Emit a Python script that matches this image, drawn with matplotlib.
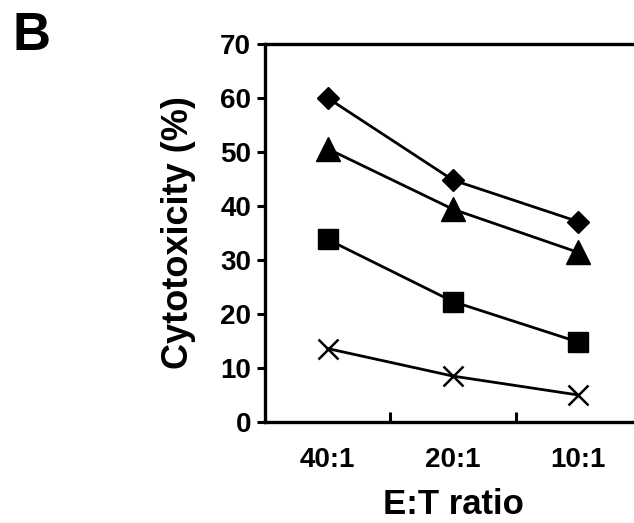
import matplotlib
matplotlib.use("Agg")
import matplotlib.pyplot as plt

ratios = ["40:1", "20:1", "10:1"]
diamond = [60.0, 44.8, 37.1]
triangle = [50.6, 39.4, 31.4]
square = [33.8, 22.3, 14.8]
cross = [13.6, 8.5, 5.0]

plt.rcParams['font.family'] = ['Liberation Sans', 'DejaVu Sans']
plt.rcParams['font.weight'] = 'bold'

fig = plt.figure(figsize=(6.34, 5.23), dpi=100)
ax = fig.add_axes([265 / 634, 1 - 422 / 523, (641 - 265) / 634, (422 - 44) / 523])

x = range(len(ratios))
ax.plot(x, diamond, color='black', lw=2, marker='D', ms=11, clip_on=False)
ax.plot(x, triangle, color='black', lw=2, marker='^', ms=17, clip_on=False)
ax.plot(x, square, color='black', lw=2, marker='s', ms=15, clip_on=False)
ax.plot(x, cross, color='black', lw=2, marker='x', ms=15, mew=1.8, clip_on=False)

ax.set_xlim(-0.5, 2.5)
ax.set_ylim(0, 70)
ax.set_yticks(range(0, 71, 10))
ax.set_xticks([0.5, 1.5])
ax.set_xticklabels([])
ax.set_xticks(list(x), labels=ratios, minor=True)
ax.tick_params(axis='x', which='major', direction='in', length=7, width=2.2)
ax.tick_params(axis='x', which='minor', length=0, pad=18, labelsize=20)
ax.tick_params(axis='y', direction='out', length=6, width=2.2, labelsize=20, pad=4)
for lbl in ax.get_xticklabels(minor=True) + ax.get_yticklabels():
    lbl.set_fontweight('bold')

for side in ['left', 'bottom', 'top']:
    ax.spines[side].set_linewidth(2.4)
ax.spines['right'].set_visible(False)

ax.set_xlabel('E:T ratio', fontsize=25, fontweight='bold', labelpad=11)
ax.set_ylabel('Cytotoxicity (%)', fontsize=26, fontweight='bold', labelpad=17)

fig.text(13 / 634, 1 - 50 / 523, 'B', fontsize=38, fontweight='bold', ha='left', va='baseline')

fig.savefig('out.png', dpi=100)
